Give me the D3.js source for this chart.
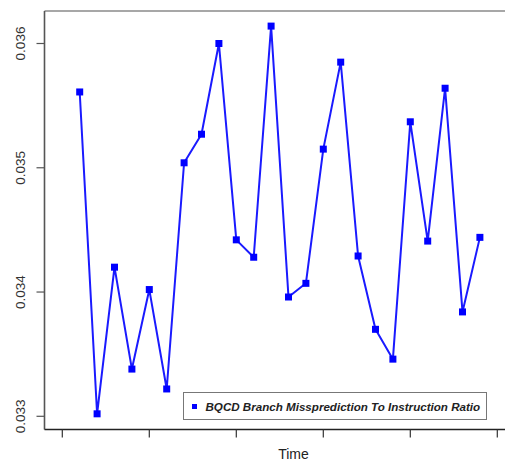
<!DOCTYPE html>
<html>
<head>
<meta charset="utf-8">
<script src="https://cdn.jsdelivr.net/npm/d3@7"></script>
<style>
  html, body { margin: 0; padding: 0; background: #fff; }
  svg { display: block; }
</style>
</head>
<body>
<svg id="chart" width="505" height="462"></svg>
<script>
// Sample index along the time axis
const timeIndex = [1, 2, 3, 4, 5, 6, 7, 8, 9, 10, 11, 12,
                   13, 14, 15, 16, 17, 18, 19, 20, 21, 22, 23, 24];

// Branch misprediction to instruction ratio per sample
const ratioValues = [0.03561, 0.03302, 0.03420, 0.03338, 0.03402, 0.03322,
                     0.03504, 0.03527, 0.03600, 0.03442, 0.03428, 0.03614,
                     0.03396, 0.03407, 0.03515, 0.03585, 0.03429, 0.03370,
                     0.03346, 0.03537, 0.03441, 0.03564, 0.03384, 0.03444];

const xTicks = [0, 5, 10, 15, 20, 25];
const yTicks = [0.033, 0.034, 0.035, 0.036];
const yTickLabels = ["0.033", "0.034", "0.035", "0.036"];

const seriesName = "BQCD Branch Missprediction To Instruction Ratio";
const xTitle = "Time";

const svg = d3.select("#chart");

// Plot frame (extends past the right edge of the canvas)
const frame = { left: 44.5, top: 11, bottom: 429.5, right: 542 };

const x = d3.scaleLinear().domain([0, 25]).range([62.3, 497.3]);
const y = d3.scaleLinear().domain([0.033, 0.036]).range([416.3, 43.5]);

const font = "'Liberation Sans', Arial, Helvetica, sans-serif";

// Frame lines
svg.append("line")
  .attr("x1", frame.left).attr("x2", frame.right + 5)
  .attr("y1", frame.top).attr("y2", frame.top)
  .attr("stroke", "#8a8a8a").attr("stroke-width", 1.6);
svg.append("line")
  .attr("x1", frame.left).attr("x2", frame.left)
  .attr("y1", frame.top).attr("y2", frame.bottom)
  .attr("stroke", "#555").attr("stroke-width", 1.6);
svg.append("line")
  .attr("x1", frame.left).attr("x2", frame.right + 5)
  .attr("y1", frame.bottom).attr("y2", frame.bottom)
  .attr("stroke", "#222").attr("stroke-width", 1.4);

// Y axis ticks and rotated labels
const yAxis = svg.append("g");
yAxis.selectAll("line.tick")
  .data(yTicks)
  .join("line")
  .attr("class", "tick")
  .attr("x1", frame.left - 8).attr("x2", frame.left)
  .attr("y1", d => y(d)).attr("y2", d => y(d))
  .attr("stroke", "#555").attr("stroke-width", 1.2);
yAxis.selectAll("text")
  .data(yTicks)
  .join("text")
  .attr("transform", d => `translate(25,${y(d)}) rotate(-90)`)
  .attr("text-anchor", "middle")
  .attr("font-family", font)
  .attr("font-size", 13.5)
  .attr("fill", "#333")
  .text((d, i) => yTickLabels[i]);

// X axis ticks (no labels)
svg.append("g").selectAll("line")
  .data(xTicks)
  .join("line")
  .attr("x1", d => x(d)).attr("x2", d => x(d))
  .attr("y1", frame.bottom).attr("y2", frame.bottom + 8)
  .attr("stroke", "#333").attr("stroke-width", 1.2);

svg.append("text")
  .attr("x", 293.5).attr("y", 459)
  .attr("text-anchor", "middle")
  .attr("font-family", font)
  .attr("font-size", 14)
  .attr("fill", "#222")
  .text(xTitle);

// Series line and square markers
const points = timeIndex.map((t, i) => ({ t, v: ratioValues[i] }));

svg.append("path")
  .datum(points)
  .attr("fill", "none")
  .attr("stroke", "#1a1aff")
  .attr("stroke-width", 2)
  .attr("stroke-linejoin", "round")
  .attr("d", d3.line().x(d => x(d.t)).y(d => y(d.v)));

const ms = 7;
svg.append("g").selectAll("rect")
  .data(points)
  .join("rect")
  .attr("x", d => x(d.t) - ms / 2)
  .attr("y", d => y(d.v) - ms / 2)
  .attr("width", ms).attr("height", ms)
  .attr("fill", "#0000ff");

// Legend
const legend = svg.append("g");
legend.append("rect")
  .attr("x", 183.5).attr("y", 392.5)
  .attr("width", 303).attr("height", 27)
  .attr("fill", "#fff")
  .attr("stroke", "#777").attr("stroke-width", 1);
legend.append("rect")
  .attr("x", 192).attr("y", 404)
  .attr("width", 5).attr("height", 5)
  .attr("fill", "#0000ff");
legend.append("text")
  .attr("x", 205.5).attr("y", 410.5)
  .attr("font-family", font)
  .attr("font-size", 11.6)
  .attr("font-weight", "bold")
  .attr("font-style", "italic")
  .attr("fill", "#222")
  .text(seriesName);
</script>
</body>
</html>
